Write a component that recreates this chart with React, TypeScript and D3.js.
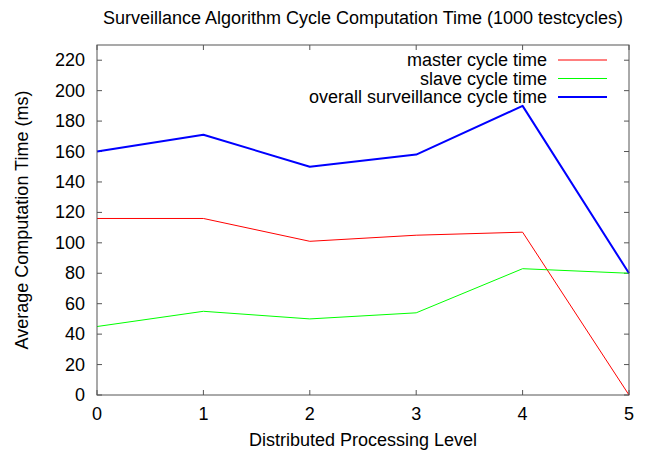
import * as d3 from 'd3';
import { type FC } from 'react';

const levels: number[] = [0, 1, 2, 3, 4, 5];
const masterTime: number[] = [116, 116, 101, 105, 107, 0];
const slaveTime: number[] = [45, 55, 50, 54, 83, 80];
const overallTime: number[] = [160, 171, 150, 158, 190, 80];
const yTicks: number[] = d3.range(0, 221, 20);

const seriesNames: string[] = [
  'master cycle time',
  'slave cycle time',
  'overall surveillance cycle time',
];
const seriesColors: string[] = ['#ff0000', '#00ff00', '#0000ff'];
const seriesWidths: number[] = [1, 1, 2];

const width = 647;
const height = 452;
const marginLeft = 97;
const marginRight = 18;
const marginTop = 45;
const marginBottom = 57;
const font = 'Liberation Sans, Arial, sans-serif';
const fs = 18;

const App: FC = () => {
  const x = d3.scaleLinear([0, 5], [marginLeft, width - marginRight]);
  const y = d3.scaleLinear([0, 230], [height - marginBottom, marginTop]);
  const line = d3
    .line<number>()
    .x((_d, i) => x(levels[i]))
    .y((d) => y(d));

  const all = [masterTime, slaveTime, overallTime];
  const left = x(0);
  const right = x(5);
  const top = y(230);
  const bottom = y(0);
  const tick = 5;

  return (
    <svg
      width={width}
      height={height}
      style={{ position: 'absolute', left: 0, top: 0 }}
      fontFamily={font}
    >
      <rect width={width} height={height} fill='#fff' />
      <text x={(left + right) / 2} y={24} textAnchor='middle' fontSize={fs}>
        Surveillance Algorithm Cycle Computation Time (1000 testcycles)
      </text>
      <g stroke='#555' strokeWidth={1}>
        {yTicks.map((t) => (
          <g key={t}>
            <line x1={left} x2={left + tick} y1={y(t)} y2={y(t)} />
            <line x1={right} x2={right - tick} y1={y(t)} y2={y(t)} />
          </g>
        ))}
        {levels.map((t) => (
          <g key={t}>
            <line x1={x(t)} x2={x(t)} y1={bottom} y2={bottom - tick} />
            <line x1={x(t)} x2={x(t)} y1={top} y2={top + tick} />
          </g>
        ))}
      </g>
      <g fontSize={fs} textAnchor='end'>
        {yTicks.map((t) => (
          <text key={t} x={left - 12} y={y(t) + 6}>
            {t}
          </text>
        ))}
      </g>
      <g fontSize={fs} textAnchor='middle'>
        {levels.map((t) => (
          <text key={t} x={x(t)} y={bottom + 25}>
            {t}
          </text>
        ))}
      </g>
      <text x={(left + right) / 2} y={446} textAnchor='middle' fontSize={fs}>
        Distributed Processing Level
      </text>
      <text
        transform={`translate(28,${(top + bottom) / 2}) rotate(-90)`}
        textAnchor='middle'
        fontSize={fs}
      >
        Average Computation Time (ms)
      </text>
      {all.map((data, i) => (
        <path
          key={i}
          d={line(data) ?? undefined}
          fill='none'
          stroke={seriesColors[i]}
          strokeWidth={seriesWidths[i]}
          strokeLinejoin='round'
        />
      ))}
      <g fontSize={fs}>
        {seriesNames.map((name, i) => (
          <g key={name} transform={`translate(0,${60 + i * 18.5})`}>
            <text x={547} y={6} textAnchor='end'>
              {name}
            </text>
            <line
              x1={558}
              x2={607}
              y1={0}
              y2={0}
              stroke={seriesColors[i]}
              strokeWidth={seriesWidths[i]}
            />
          </g>
        ))}
      </g>
      <rect
        x={left}
        y={top}
        width={right - left}
        height={bottom - top}
        fill='none'
        stroke='#555'
        strokeWidth={1}
      />
    </svg>
  );
};

export default App;
